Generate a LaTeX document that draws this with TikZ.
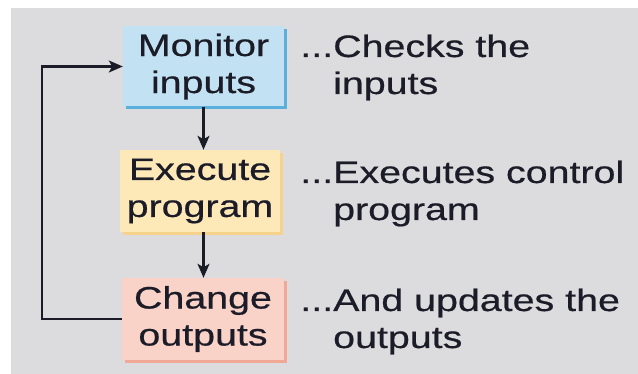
\documentclass[tikz,border=0pt]{standalone}
\usepackage{fontspec}
\setmainfont[FakeStretch=1.27,FakeBold=0.6]{Liberation Sans}
\usetikzlibrary{arrows.meta,shadows}

\definecolor{panel}{HTML}{DCDCDE}
\definecolor{ink}{HTML}{1C1C28}
\definecolor{monfill}{HTML}{C2E2F3}
\definecolor{monshade}{HTML}{5AB0DC}
\definecolor{exefill}{HTML}{FDE8B8}
\definecolor{exeshade}{HTML}{F6D38C}
\definecolor{chgfill}{HTML}{FAD3C8}
\definecolor{chgshade}{HTML}{F2A896}

\newcommand{\labelfont}{\fontsize{31}{37}\selectfont}

\begin{document}
\begin{tikzpicture}[x=1pt,y=-1pt,
  stage/.style={inner sep=0pt, align=center, font=\labelfont, text=ink},
  monbox/.style={stage, fill=monfill,
    general shadow={fill=monshade, shadow xshift=3pt, shadow yshift=-3pt}},
  exebox/.style={stage, fill=exefill,
    general shadow={fill=exeshade, shadow xshift=3pt, shadow yshift=-3pt}},
  chgbox/.style={stage, fill=chgfill,
    general shadow={fill=chgshade, shadow xshift=3pt, shadow yshift=-3pt}},
  note/.style={inner sep=0pt, align=left, font=\labelfont, text=ink},
  flow/.style={draw=ink, line width=2.2pt,
    -{Stealth[length=14pt, width=12pt, inset=3.5pt]}}
]
\useasboundingbox (0,0) rectangle (638,374);
\fill[white] (0,0) rectangle (638,374);
\fill[panel] (11,8) rectangle (638,374);

% the three stages of the scan cycle
\node[monbox, minimum width=161pt, minimum height=80pt] (mon) at (203.5,66.5) {Monitor\\inputs};
\node[exebox, minimum width=160pt, minimum height=82pt] (exe) at (200,191) {Execute\\program};
\node[chgbox, minimum width=162pt, minimum height=82pt] (chg) at (203,319) {Change\\outputs};

% what each stage does (anchored on the baseline of the second line)
\node[note, anchor=base west] (d1) at (333,94) {\llap{...}Checks the\\inputs};
\node[note, anchor=base west] (d2) at (333,220) {\llap{...}Executes control\\program};
\node[note, anchor=base west] (d3) at (333,348) {\llap{...}And updates the\\outputs};

% flow between stages
\draw[flow] (mon.south) -- (mon.south |- exe.north);
\draw[flow] (exe.south -| mon.south) -- (mon.south |- chg.north);

% return path from the last stage back to the first
\coordinate (rail) at (42,0);
\draw[flow] (chg.west) -- (chg.west -| rail) |- (mon.west);
\end{tikzpicture}
\end{document}
